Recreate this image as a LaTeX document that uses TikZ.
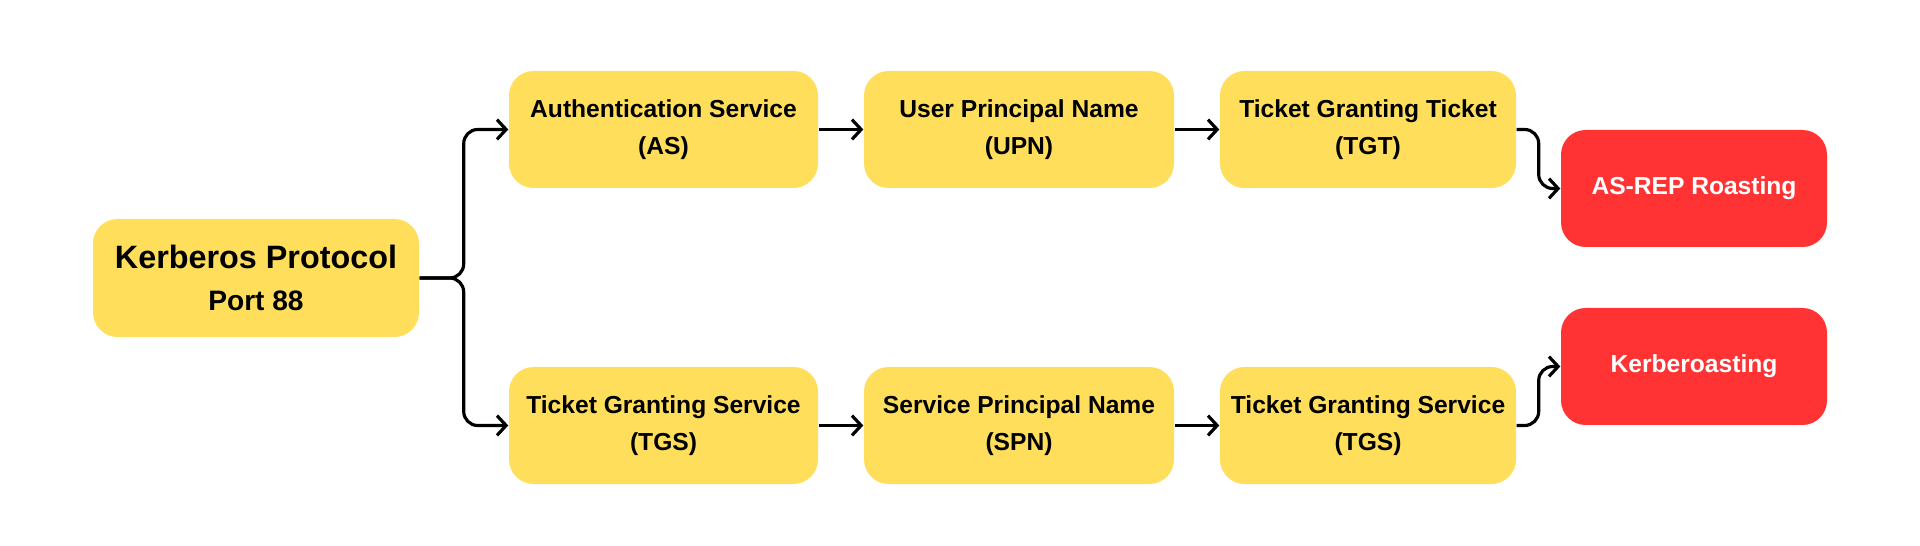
\documentclass[tikz,border=0pt]{standalone}
\usepackage{fontspec}
\setmainfont{Liberation Sans}
\usepackage{tikz}
\usetikzlibrary{arrows.meta}
\definecolor{boxyellow}{RGB}{254,222,90}
\definecolor{attackred}{RGB}{255,51,51}
\tikzstyle{arrow} = [->,>={Straight Barb[length=2.6pt,width=5.6pt]},line width=0.9pt,rounded corners=4pt]
\tikzstyle{box} = [font=\fontsize{7}{10.5}\selectfont\bfseries,align=center,fill=boxyellow,rounded corners=7pt,inner sep=0pt,minimum height=1.17cm]
\tikzstyle{attack} = [box,fill=attackred,text=white,minimum width=2.66cm]

\begin{document}
\begin{tikzpicture}
          \useasboundingbox (0,0) rectangle (19.2,-5.46);
          \node[box, minimum width=3.26cm, minimum height=1.18cm, font=\fontsize{9.2}{11.9}\selectfont\bfseries] at (2.56,-2.78) (ker) {Kerberos Protocol\\\fontsize{8}{11.9}\selectfont Port 88};

          \node[box, minimum width=3.09cm] at (6.635,-1.295) (as) {Authentication Service\\(AS)};
          \node[box, minimum width=3.10cm] at (10.19,-1.295) (upn) {User Principal Name\\(UPN)};
          \node[box, minimum width=2.96cm] at (13.68,-1.295) (tgt) {Ticket Granting Ticket\\(TGT)};
          \node[attack] at (16.94,-1.885) (asrep) {AS-REP Roasting};

          \node[box, minimum width=3.09cm] at (6.635,-4.255) (tgs) {Ticket Granting Service\\(TGS)};
          \node[box, minimum width=3.10cm] at (10.19,-4.255) (spn) {Service Principal Name\\(SPN)};
          \node[box, minimum width=2.96cm] at (13.68,-4.255) (tgsb) {Ticket Granting Service\\(TGS)};
          \node[attack] at (16.94,-3.665) (kroast) {Kerberoasting};

          \draw[arrow] (ker.east) -- ++(0.44,0) |- (as.west);
          \draw[arrow] (ker.east) -- ++(0.44,0) |- (tgs.west);
          \draw[arrow] (as) -- (upn);
          \draw[arrow] (upn) -- (tgt);
          \draw[arrow] (tgs) -- (spn);
          \draw[arrow] (spn) -- (tgsb);
          \draw[arrow] (tgt.east) -- ++(0.22,0) |- (asrep.west);
          \draw[arrow] (tgsb.east) -- ++(0.22,0) |- (kroast.west);
        \end{tikzpicture}
\end{document}
